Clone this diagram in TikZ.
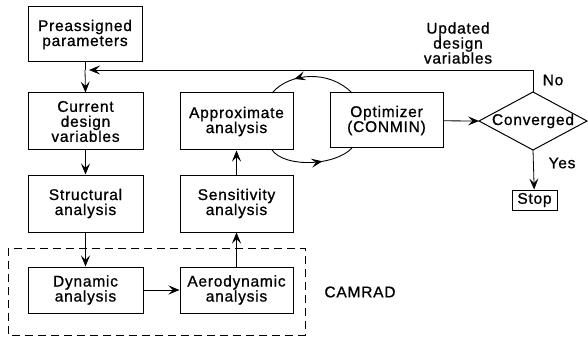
\documentclass[tikz,border=0pt]{standalone}
\usepackage{fontspec}
\setmainfont[LetterSpace=5,FakeBold=0.9]{Liberation Sans}
\usetikzlibrary{arrows.meta,decorations.markings}
\begin{document}
\begin{tikzpicture}[x=1pt,y=-1pt,
  box/.style={draw,line width=1pt,align=center,inner sep=0pt,font=\fontsize{15.5}{15}\selectfont},
  lbl/.style={align=center,inner sep=0pt,font=\fontsize{15.5}{15}\selectfont},
  tip/.style={},
  arr/.style={line width=0.8pt,-{Stealth[length=11pt,width=9pt,inset=4.5pt]}},
  ln/.style={line width=0.8pt},
  midarr/.style={line width=0.9pt,postaction={decorate},decoration={markings,mark=at position #1 with {\arrow{Stealth[length=11pt,width=9pt,inset=4.5pt]}}}}
]
\useasboundingbox (0,0) rectangle (588,339);
\node[box,minimum width=114,minimum height=55] (pre) at (85,34.5) {Preassigned\\parameters};
\node[box,minimum width=115,minimum height=57] (cur) at (85.5,121.5) {Current\\design\\variables};
\node[box,minimum width=115,minimum height=57] (str) at (85.5,203.5) {Structural\\analysis};
\node[box,minimum width=115,minimum height=46] (dyn) at (85.5,290) {Dynamic\\analysis};
\node[box,minimum width=113,minimum height=57] (app) at (236.5,121.5) {Approximate\\analysis};
\node[box,minimum width=113,minimum height=57] (sen) at (236.5,203.5) {Sensitivity\\analysis};
\node[box,minimum width=113,minimum height=46] (aer) at (236.5,290) {Aerodynamic\\analysis};
\node[box,minimum width=113,minimum height=55] (opt) at (386.5,120.5) {Optimizer\\(CONMIN)};
\node[box,minimum width=45,minimum height=20] (stop) at (534.5,200) {Stop};
\node[lbl] (conv) at (533,121) {Converged};
\coordinate (cT) at (533,92);
\coordinate (cB) at (533,150);
\coordinate (cL) at (479,121);
\coordinate (cR) at (587,121);
\draw[line width=1pt] (cT) -- (cR) -- (cB) -- (cL) -- cycle;
\draw[dashed,dash pattern=on 8pt off 5pt,line width=1pt] (8,248) rectangle (305,335);
\node[lbl] (camrad) at (360,292) {CAMRAD};
\node[lbl] (upd) at (458,43) {Updated\\design\\variables};
\node[lbl] (no) at (553,80) {No};
\node[lbl] (yes) at (562,163) {Yes};
\coordinate (J) at (86,70);
\coordinate (cTop) at (533,70);
\coordinate (Jr) at (89,70);
\draw[ln] (pre.south) -- (pre.south|-J);
\draw[arr] (pre.south|-J) -- (cur.north);
\draw[ln] (cT) -- (cTop);
\draw[arr] (cTop) -- (Jr);
\draw[arr] (cur) -- (str);
\draw[arr] (str) -- (dyn);
\draw[arr] (dyn) -- (aer);
\draw[arr] (aer) -- (sen);
\draw[arr] (sen) -- (app);
\draw[arr] (opt) -- (cL);
\draw[arr] (cB) -- (stop);
\coordinate (oT) at (352,93);
\coordinate (aT) at (272,93);
\coordinate (aB) at (272,150);
\coordinate (oB) at (352,148);
\draw[midarr=0.7] (oT) .. controls (330,70) and (290,72) .. (aT);
\draw[midarr=0.62] (aB) .. controls (285,168) and (335,166) .. (oB);
\end{tikzpicture}
\end{document}
